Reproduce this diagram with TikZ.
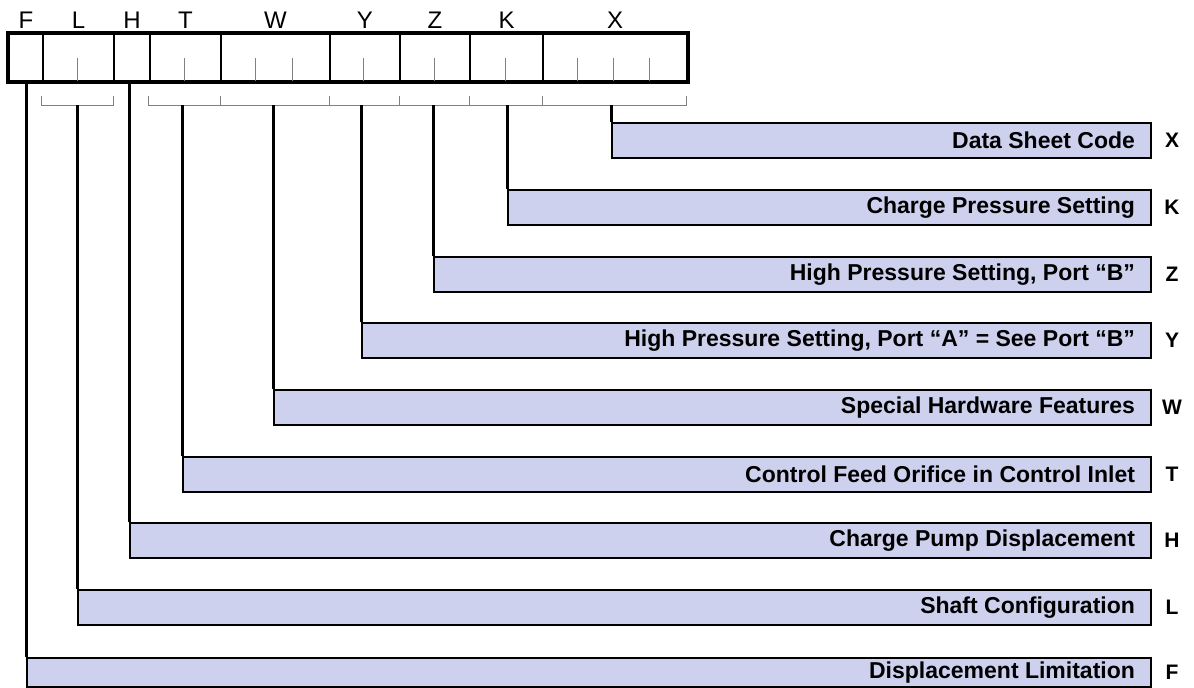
\documentclass[tikz,border=0pt]{standalone}
\usepackage{fontspec}
\setmainfont{Liberation Sans}
\definecolor{barfill}{RGB}{205,209,238}
\begin{document}
\begin{tikzpicture}[x=0.5pt, y=-0.5pt,
    cell/.style={draw, line width=1pt, minimum height=23.5pt, inner sep=0pt, anchor=south west},
    bar/.style={draw, line width=1pt, fill=barfill, minimum height=17.5pt, inner sep=0pt, anchor=north west},
    bartext/.style={font=\bfseries\fontsize{11.5}{13}\selectfont, anchor=east},
    barkey/.style={font=\bfseries\fontsize{10.5}{12}\selectfont},
    conn/.style={line width=1.5pt},
    tick/.style={gray, line width=0.5pt}]
    \useasboundingbox (0,0) rectangle (1194,687);
    % code cells
    \foreach \k/\a/\b in {F/8/42, L/42/113, H/113/149, T/149/220, W/220/329, Y/329/399, Z/399/469, K/469/542, X/542/686}
        \node[cell, minimum width={(\b-\a)*0.5pt}] (cell\k) at (\a,82) {};
    \draw[line width=2pt] (cellF.north west) rectangle (cellX.south east);
    % digit ticks
    \foreach \x in {77,184,255,292,363,434,505,577,613,649}
        \draw[tick] (\x,58) -- (\x,81);
    % letters over the cells
    \foreach \k in {F,L,H,T,W,Y,Z,K,X}
        \node[font=\fontsize{12}{14}\selectfont, anchor=base] (lab\k) at (cell\k.center |- 0,28) {\k};
    % brackets
    \draw[tick] (41,96) -- (41,105) -- (113,105) -- (113,96);
    \draw[tick] (148,96) -- (148,105) -- (686,105) -- (686,96);
    \foreach \x in {220,329,399,469,542}
        \draw[tick] (\x,96) -- (\x,105);
    \coordinate (brk) at (0,105);
    % description bars
    \foreach \k/\x/\y/\t in {X/611/122/Data Sheet Code, K/507/189/Charge Pressure Setting,
        Z/433/256/{High Pressure Setting, Port ``B''},
        Y/361/322/{High Pressure Setting, Port ``A'' = See Port ``B''},
        W/273/389/Special Hardware Features, T/182/456/Control Feed Orifice in Control Inlet,
        H/129/522/Charge Pump Displacement, L/77/589/Shaft Configuration} {
        \node[bar, minimum width={(1150-\x)*0.5pt}] (bar\k) at (\x,\y) {};
        \node[bartext] (txt\k) at ([xshift=-5pt]bar\k.east) {\t};
        \node[barkey] (key\k) at ([xshift=10pt]bar\k.east) {\k};
    }
    % last bar is cut short by the page edge
    \node[bar, minimum width={(1150-26)*0.5pt}, minimum height=14.5pt] (barF) at (26,657) {};
    \node[bartext] (txtF) at ([xshift=-5pt]barF.east) {Displacement Limitation};
    \node[barkey] (keyF) at ([xshift=10pt]barF.east) {F};
    % connectors
    \foreach \k in {F,H}
        \draw[conn] (bar\k.north west |- cell\k.south) -- (bar\k.north west);
    \foreach \k in {L,T,W,Y,Z,K,X}
        \draw[conn] (bar\k.north west |- brk) -- (bar\k.north west);
\end{tikzpicture}
\end{document}
